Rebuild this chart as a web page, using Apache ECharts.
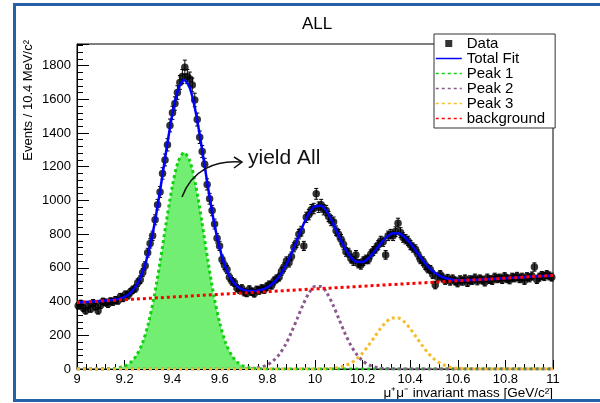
<!DOCTYPE html>
<html>
<head>
<meta charset="utf-8">
<script src="https://cdn.jsdelivr.net/npm/echarts@6/dist/echarts.min.js"></script>
<style>
  html, body { margin: 0; padding: 0; background: #fff; }
  #chart { width: 600px; height: 403px; }
</style>
</head>
<body>
<div id="chart"></div>
<script>
// Dimuon invariant-mass spectrum, 9-11 GeV/c^2, 192 bins of 10.4 MeV/c^2
const massMin = 9;
const massMax = 11;
const binCount = 192;

// Events per bin
const dataCounts = [
  375, 388, 362, 345, 380, 356, 392, 370, 345, 378,
  400, 395, 385, 402, 398, 410, 405, 428, 420, 442,
  436, 455, 470, 478, 512, 530, 572, 612, 690, 745,
  790, 885, 975, 1050, 1160, 1240, 1330, 1445, 1520, 1575,
  1640, 1700, 1735, 1790, 1735, 1720, 1685, 1596, 1480, 1375,
  1290, 1215, 1095, 1010, 940, 860, 775, 730, 650, 615,
  590, 545, 520, 512, 480, 470, 478, 455, 450, 472,
  458, 448, 470, 465, 478, 470, 488, 500, 496, 522,
  535, 545, 580, 605, 640, 630, 668, 722, 748, 800,
  818, 730, 900, 915, 945, 952, 1039, 960, 975, 945,
  940, 905, 880, 872, 820, 800, 770, 738, 695, 690,
  655, 640, 677, 625, 617, 640, 650, 650, 680, 700,
  715, 735, 760, 755, 677, 790, 800, 790, 815, 865,
  810, 780, 770, 760, 735, 720, 710, 680, 650, 640,
  615, 595, 590, 560, 498, 545, 560, 540, 525, 538,
  520, 535, 522, 510, 530, 520, 535, 512, 530, 525,
  540, 522, 535, 528, 515, 540, 530, 525, 545, 535,
  540, 530, 548, 535, 528, 545, 540, 550, 535, 545,
  525, 548, 540, 552, 605, 530, 545, 555, 548, 560,
  552, 545
];

// Fit components sampled every 25 MeV/c^2 from 9.000 to 11.000
const curveStep = 0.025;
const totalFit = [
  395, 397, 399, 401, 403, 406, 410, 416, 428, 452,
  496, 571, 690, 856, 1066, 1295, 1507, 1659, 1715, 1663,
  1515, 1307, 1082, 876, 714, 599, 528, 488, 469, 462,
  463, 470, 484, 510, 550, 607, 682, 767, 853, 924,
  965, 968, 932, 867, 790, 719, 664, 636, 635, 658,
  697, 742, 781, 804, 805, 785, 747, 699, 651, 608,
  575, 552, 538, 530, 527, 527, 528, 529, 531, 533,
  535, 537, 539, 541, 543, 545, 547, 549, 551, 553,
  555
];
const peak1 = [
  0, 0, 0, 0, 0, 1, 3, 7, 17, 39,
  81, 154, 271, 435, 643, 870, 1080, 1230, 1284, 1230,
  1080, 870, 643, 435, 271, 154, 81, 39, 17, 7,
  3, 1, 0, 0, 0, 0, 0, 0, 0, 0,
  0, 0, 0, 0, 0, 0, 0, 0, 0, 0,
  0, 0, 0, 0, 0, 0, 0, 0, 0, 0,
  0, 0, 0, 0, 0, 0, 0, 0, 0, 0,
  0, 0, 0, 0, 0, 0, 0, 0, 0, 0,
  0
];
const peak2 = [
  0, 0, 0, 0, 0, 0, 0, 0, 0, 0,
  0, 0, 0, 0, 0, 0, 0, 0, 0, 0,
  0, 0, 0, 0, 0, 0, 0, 0, 1, 2,
  5, 12, 25, 49, 87, 142, 215, 298, 382, 451,
  490, 490, 451, 382, 298, 215, 142, 87, 49, 25,
  12, 5, 2, 1, 0, 0, 0, 0, 0, 0,
  0, 0, 0, 0, 0, 0, 0, 0, 0, 0,
  0, 0, 0, 0, 0, 0, 0, 0, 0, 0,
  0
];
const peak3 = [
  0, 0, 0, 0, 0, 0, 0, 0, 0, 0,
  0, 0, 0, 0, 0, 0, 0, 0, 0, 0,
  0, 0, 0, 0, 0, 0, 0, 0, 0, 0,
  0, 0, 0, 0, 0, 0, 0, 0, 0, 0,
  0, 1, 2, 4, 9, 19, 35, 60, 95, 140,
  190, 240, 280, 302, 302, 280, 240, 190, 140, 95,
  60, 35, 19, 9, 4, 2, 1, 0, 0, 0,
  0, 0, 0, 0, 0, 0, 0, 0, 0, 0,
  0
];
const background = [
  395, 397, 399, 401, 403, 405, 407, 409, 411, 413,
  415, 417, 419, 421, 423, 425, 427, 429, 431, 433,
  435, 437, 439, 441, 443, 445, 447, 449, 451, 453,
  455, 457, 459, 461, 463, 465, 467, 469, 471, 473,
  475, 477, 479, 481, 483, 485, 487, 489, 491, 493,
  495, 497, 499, 501, 503, 505, 507, 509, 511, 513,
  515, 517, 519, 521, 523, 525, 527, 529, 531, 533,
  535, 537, 539, 541, 543, 545, 547, 549, 551, 553,
  555
];

const legendNames = ['Data', 'Total Fit', 'Peak 1', 'Peak 2', 'Peak 3', 'background'];
const chartTitle = 'ALL';
const yTitle = 'Events / 10.4 MeV/c\u00b2';
const xTitle = '\u03bc\u207a\u03bc\u207b invariant mass [GeV/c\u00b2]';
const noteText = 'yield All';

// ---- derived series data ----
const binWidth = (massMax - massMin) / binCount;
const binCenter = i => massMin + (i + 0.5) * binWidth;
const dataPoints = dataCounts.map((n, i) => [binCenter(i), n]);
const errorPoints = dataCounts.map((n, i) => [binCenter(i), n - Math.sqrt(n), n + Math.sqrt(n)]);
const curveMass = totalFit.map((_, j) => massMin + j * curveStep);
const pair = arr => arr.map((v, j) => [curveMass[j], v]);

const font = '"Liberation Sans", Arial, Helvetica, sans-serif';
const chart = echarts.init(document.getElementById('chart'));

function errorBar(params, api) {
  const x = api.value(0);
  const lo = api.coord([x, api.value(1)]);
  const hi = api.coord([x, api.value(2)]);
  const st = { stroke: '#000', lineWidth: 1 };
  return {
    type: 'group',
    children: [
      { type: 'line', shape: { x1: lo[0], y1: lo[1], x2: hi[0], y2: hi[1] }, style: st },
      { type: 'line', shape: { x1: lo[0] - 2, y1: lo[1], x2: lo[0] + 2, y2: lo[1] }, style: st },
      { type: 'line', shape: { x1: hi[0] - 2, y1: hi[1], x2: hi[0] + 2, y2: hi[1] }, style: st }
    ]
  };
}

const dotted = (color) => ({ color: color, width: 3, type: [3, 3] });
// line entries in the legend show only the line sample, no marker
const lineEntry = name => ({ name: name, itemStyle: { opacity: 0 } });

chart.setOption({
  animation: false,
  backgroundColor: '#fff',
  textStyle: { fontFamily: font },
  title: {
    text: chartTitle, left: 297, top: 11,
    textStyle: { fontFamily: font, fontSize: 17, fontWeight: 'normal', color: '#000' }
  },
  legend: {
    data: [
      { name: legendNames[0], icon: 'path://M0,0H10V10H0Z' },
      lineEntry(legendNames[1]), lineEntry(legendNames[2]), lineEntry(legendNames[3]),
      lineEntry(legendNames[4]), lineEntry(legendNames[5])
    ],
    orient: 'vertical',
    left: 434, top: 34,
    padding: [2, 10, 2, 1],
    itemGap: 0,
    itemWidth: 26, itemHeight: 7,
    backgroundColor: '#fff',
    borderColor: '#333', borderWidth: 1,
    selectedMode: false,
    lineStyle: { width: 1.5 },
    textStyle: { fontFamily: font, fontSize: 15, color: '#000', lineHeight: 14.5 }
  },
  grid: {
    left: 77, right: 47, top: 44, bottom: 34,
    show: true, borderColor: '#000', borderWidth: 1, backgroundColor: 'transparent'
  },
  xAxis: {
    type: 'value', min: massMin, max: massMax, interval: 0.2,
    axisLine: { lineStyle: { color: '#000', width: 1 } },
    axisTick: { inside: true, length: 9, lineStyle: { color: '#000' } },
    minorTick: { show: true, splitNumber: 5, length: 5, lineStyle: { color: '#000' } },
    splitLine: { show: false },
    axisLabel: {
      margin: 4, fontSize: 13, color: '#000', fontFamily: font,
      formatter: v => String(Math.round(v * 10) / 10)
    }
  },
  yAxis: {
    type: 'value', min: 0, max: 1928, interval: 200,
    axisLine: { lineStyle: { color: '#000', width: 1 } },
    axisTick: { inside: true, length: 12, lineStyle: { color: '#000' } },
    minorTick: { show: true, splitNumber: 5, length: 6, lineStyle: { color: '#000' } },
    splitLine: { show: false },
    axisLabel: {
      margin: 6, fontSize: 13, color: '#000', fontFamily: font, showMaxLabel: false,
      formatter: v => String(v)
    }
  },
  series: [
    {
      name: legendNames[0], type: 'scatter', data: dataPoints,
      symbol: 'circle', symbolSize: 7.5,
      itemStyle: { color: '#000' }, z: 2
    },
    {
      name: 'errors', type: 'custom', data: errorPoints,
      renderItem: errorBar, encode: { x: 0, y: [1, 2] }, z: 2
    },
    {
      name: legendNames[2], type: 'line', data: pair(peak1), symbol: 'none', smooth: 0.3,
      lineStyle: dotted('#10d010'), itemStyle: { color: '#10d010' },
      areaStyle: { color: '#72ee72', opacity: 1 }, z: 3
    },
    {
      name: legendNames[3], type: 'line', data: pair(peak2), symbol: 'none', smooth: 0.3,
      lineStyle: dotted('#8a5a8e'), itemStyle: { color: '#8a5a8e' }, z: 3
    },
    {
      name: legendNames[4], type: 'line', data: pair(peak3), symbol: 'none', smooth: 0.3,
      lineStyle: dotted('#f4be2a'), itemStyle: { color: '#f4be2a' }, z: 3
    },
    {
      name: legendNames[1], type: 'line', data: pair(totalFit), symbol: 'none', smooth: 0.3,
      lineStyle: { color: '#0000ff', width: 2.5 }, itemStyle: { color: '#0000ff' }, z: 4
    },
    {
      name: legendNames[5], type: 'line', data: pair(background), symbol: 'none',
      lineStyle: dotted('#ff0000'), itemStyle: { color: '#ff0000' }, z: 5
    }
  ],
  graphic: [
    {
      type: 'rect', silent: true, z: 100,
      shape: { x: 14.5, y: 4.5, width: 640, height: 396 },
      style: { fill: 'none', stroke: '#2461a6', lineWidth: 3 }
    },
    {
      type: 'text', silent: true, z: 10,
      x: 28, y: 40, rotation: Math.PI / 2,
      style: { text: yTitle, font: '13px ' + font, fill: '#000', align: 'right', verticalAlign: 'middle' }
    },
    {
      type: 'text', silent: true, z: 10,
      x: 553, y: 393,
      style: { text: xTitle, font: '13.5px ' + font, fill: '#000', align: 'right', verticalAlign: 'middle' }
    },
    {
      type: 'text', silent: true, z: 10,
      x: 248, y: 158,
      style: { text: noteText, font: '21px ' + font, fill: '#111', align: 'left', verticalAlign: 'middle' }
    },
    {
      type: 'bezierCurve', silent: true, z: 10,
      shape: { x1: 182, y1: 197, x2: 241, y2: 162, cpx1: 192, cpy1: 170, cpx2: 215, cpy2: 160 },
      style: { stroke: '#111', lineWidth: 1.5, fill: 'none' }
    },
    {
      type: 'polyline', silent: true, z: 10,
      shape: { points: [[234, 157], [242, 162], [234, 168]] },
      style: { stroke: '#111', lineWidth: 1.5, fill: 'none' }
    }
  ]
});
</script>
</body>
</html>
